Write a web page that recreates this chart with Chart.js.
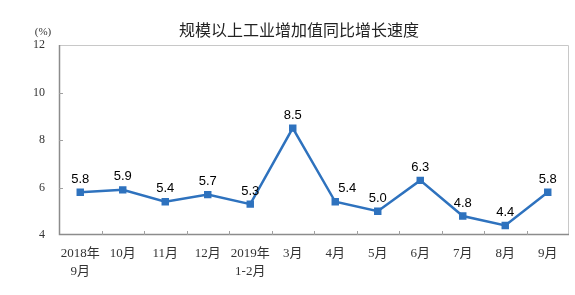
<!DOCTYPE html>
<html>
<head>
<meta charset="utf-8">
<script src="https://cdn.jsdelivr.net/npm/chart.js@4/dist/chart.umd.min.js"></script>
<style>
  html, body { margin: 0; padding: 0; background: #fff; }
  #wrap { width: 575px; height: 295px; }
</style>
</head>
<body>
<div id="wrap"><canvas id="growth-chart"></canvas></div>
<script>
const chartTitle = '规模以上工业增加值同比增长速度';
const unitLabel = '(%)';
const monthLabels = [
    ['2018年', '9月'], '10月', '11月', '12月', ['2019年', '1-2月'],
    '3月', '4月', '5月', '6月', '7月', '8月', '9月'
];
const growthRates = [5.8, 5.9, 5.4, 5.7, 5.3, 8.5, 5.4, 5.0, 6.3, 4.8, 4.4, 5.8];
const yTicks = [4, 6, 8, 10, 12];

const serif = '"Liberation Serif", "Noto Sans CJK SC", serif';
const sans = '"Liberation Sans", Arial, sans-serif';

// frame, inner tick marks, title and value labels
const decorations = {
    id: 'decorations',
    afterDatasetsDraw(chart) {
        const ctx = chart.ctx;
        const area = chart.chartArea;
        const x = chart.scales.x;
        const y = chart.scales.y;
        ctx.save();

        ctx.lineWidth = 1;
        ctx.strokeStyle = '#c8c8c8';
        ctx.beginPath();
        ctx.moveTo(area.left, area.top + 0.5);
        ctx.lineTo(area.right - 0.5, area.top + 0.5);
        ctx.lineTo(area.right - 0.5, area.bottom);
        ctx.stroke();

        ctx.strokeStyle = '#8c8c8c';
        ctx.lineWidth = 1.5;
        ctx.beginPath();
        ctx.moveTo(area.left + 0.5, area.top);
        ctx.lineTo(area.left + 0.5, area.bottom - 0.5);
        ctx.lineTo(area.right, area.bottom - 0.5);
        ctx.stroke();

        ctx.lineWidth = 1;
        ctx.strokeStyle = '#a0a0a0';
        ctx.beginPath();
        for (let i = 1; i < monthLabels.length; i++) {
            const px = Math.round((x.getPixelForValue(i - 1) + x.getPixelForValue(i)) / 2) + 0.5;
            ctx.moveTo(px, area.bottom);
            ctx.lineTo(px, area.bottom - 4);
        }
        yTicks.slice(1, -1).forEach(v => {
            const py = Math.round(y.getPixelForValue(v)) + 0.5;
            ctx.moveTo(area.left, py);
            ctx.lineTo(area.left + 4, py);
        });
        ctx.stroke();

        ctx.fillStyle = '#000';
        ctx.font = '13px ' + sans;
        ctx.textAlign = 'center';
        ctx.textBaseline = 'middle';
        const meta = chart.getDatasetMeta(0);
        meta.data.forEach((pt, i) => {
            const dx = i === 6 ? 12 : 0;
            ctx.fillText(growthRates[i].toFixed(1), pt.x + dx, pt.y - 13);
        });

        ctx.fillStyle = '#222';
        ctx.font = '16px "Noto Sans CJK SC", sans-serif';
        ctx.fillText(chartTitle, 299, 30);

        ctx.fillStyle = '#333';
        ctx.font = '11px ' + serif;
        ctx.fillText(unitLabel, 43, 32);
        ctx.restore();
    }
};

new Chart(document.querySelector('#growth-chart'), {
    type: 'line',
    data: {
        labels: monthLabels,
        datasets: [{
            data: growthRates,
            borderColor: 'rgb(46,114,190)',
            backgroundColor: 'rgb(46,114,190)',
            borderWidth: 2.5,
            pointStyle: 'rect',
            pointRadius: 3.5,
            pointHoverRadius: 3.5,
            tension: 0
        }]
    },
    options: {
        responsive: true,
        maintainAspectRatio: false,
        animation: false,
        layout: { padding: { top: 45, right: 3, left: 0, bottom: 0 } },
        plugins: {
            legend: { display: false },
            tooltip: { enabled: false },
            title: { display: false }
        },
        scales: {
            x: {
                offset: true,
                border: { display: false },
                grid: { display: false },
                ticks: {
                    padding: 2,
                    maxRotation: 0,
                    autoSkip: false,
                    color: '#333',
                    font: { family: serif, size: 13, lineHeight: 1.38 }
                },
                afterFit(scale) { scale.height = 60; }
            },
            y: {
                min: 4,
                max: 12,
                border: { display: false },
                grid: { display: false, drawTicks: false },
                afterBuildTicks(scale) { scale.ticks = yTicks.map(v => ({ value: v })); },
                ticks: {
                    padding: 14,
                    color: '#333',
                    font: { family: serif, size: 12 }
                },
                afterFit(scale) { scale.width = 59; }
            }
        }
    },
    plugins: [decorations]
});
</script>
</body>
</html>
